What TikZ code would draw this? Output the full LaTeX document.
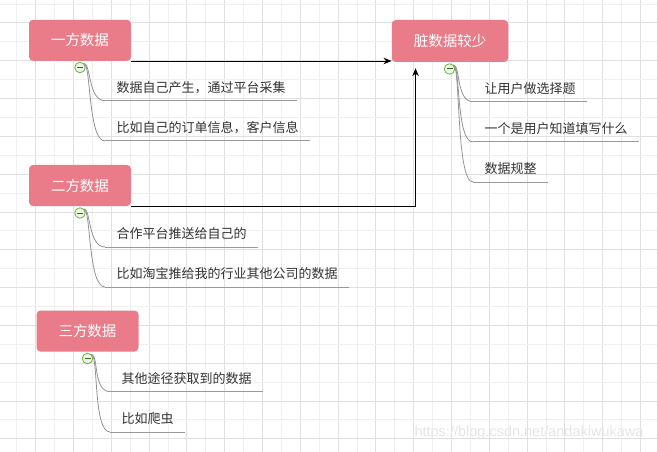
\documentclass[tikz,border=0pt]{standalone}
\usepackage{fontspec}
\setmainfont{Noto Sans CJK SC}
\newfontfamily\wmfont{Liberation Sans}
\usetikzlibrary{arrows.meta,calc}
\definecolor{topicpink}{HTML}{E97C88}
\definecolor{leafgray}{HTML}{333333}
\definecolor{linegray}{HTML}{9A9A9A}
\definecolor{foldgreen}{HTML}{6DB33F}
\definecolor{foldfill}{HTML}{EEF7E6}
\tikzset{
  topic/.style={fill=topicpink,rounded corners=4pt,text=white,
                font=\fontsize{14.5}{17}\selectfont,
                minimum height=41pt,inner xsep=22pt},
  leaf/.style={anchor=south west,inner xsep=11.5pt,inner ysep=7pt,
               text=leafgray,font=\fontsize{13}{15}\selectfont},
  uline/.style={draw=linegray,line width=1pt},
  branch/.style={draw=gray!85,line width=0.8pt},
  fold/.style={circle,draw=foldgreen,fill=foldfill,line width=0.8pt,
               minimum size=10.5pt,inner sep=0pt,
               path picture={\draw[foldgreen!55!black,line width=1pt]
                 ([xshift=-3pt]path picture bounding box.center) --
                 ([xshift=3pt]path picture bounding box.center);}},
  arr/.style={-{Stealth[length=8pt,width=6.5pt]},line width=0.9pt},
  gridminor/.style={draw=gray!12,line width=0.8pt},
  gridmajor/.style={draw=gray!24,line width=0.8pt},
  wm/.style={anchor=east,text=gray!20,font=\wmfont\fontsize{14.5}{16}\selectfont},
}

\begin{document}
\begin{tikzpicture}[x=1pt,y=-1pt]
\fill[white] (0,0) rectangle (657,452);
\useasboundingbox (0,0) rectangle (657,452);
% background grid
\foreach \i [evaluate=\i as \gx using 16.7+18.9*\i] in {0,...,33}
  {\ifodd\i \draw[gridmajor] (\gx,0) -- (\gx,452);
   \else \draw[gridminor] (\gx,0) -- (\gx,452); \fi}
\foreach \i [evaluate=\i as \gy using 4+18.9*\i] in {0,...,23}
  {\ifodd\i \draw[gridmajor] (0,\gy) -- (657,\gy);
   \else \draw[gridminor] (0,\gy) -- (657,\gy); \fi}

% topics
\node[topic] (one)   at (80,40.3)   {一方数据};
\node[topic] (two)   at (80,185.5)  {二方数据};
\node[topic] (three) at (87.5,331)  {三方数据};
\node[topic,minimum height=42pt] (dirty) at (450,41) {脏数据较少};

% fold markers
\node[fold] (c1) at (80,67.5)  {};
\node[fold] (c2) at (80,213)   {};
\node[fold] (c3) at (87.5,358.5) {};
\node[fold] (c0) at (449.5,69) {};

% leaves
\node[leaf] (a1) at (105,100.7) {数据自己产生，通过平台采集};
\node[leaf] (a2) at (105,141)   {比如自己的订单信息，客户信息};
\node[leaf] (b1) at (105,247)   {合作平台推送给自己的};
\node[leaf] (b2) at (105,287)   {比如淘宝推给我的行业其他公司的数据};
\node[leaf] (e1) at (110,391.7) {其他途径获取到的数据};
\node[leaf] (e2) at (110,432)   {比如爬虫};
\node[leaf] (d1) at (473,101.7) {让用户做选择题};
\node[leaf] (d2) at (473,142)   {一个是用户知道填写什么};
\node[leaf] (d3) at (473,182)   {数据规整};

\foreach \n in {a1,a2,b1,b2,e1,e2,d1,d2,d3}
  \draw[uline] (\n.south west) -- (\n.south east);
\foreach \c/\n in {c1/a1,c1/a2,c2/b1,c2/b2,c3/e1,c3/e2,c0/d1,c0/d2,c0/d3}
  \draw[branch] (\c.north east) .. controls +(7,0) and +(-17,0) .. (\n.south west);

% arrows into the dirty-data topic
\draw[arr] (one.south east) -- (one.south east -| dirty.west);
\draw[arr,shorten >=6pt] (two.south east) -| ([xshift=24pt]dirty.south west);

\node[wm] (mark) at (647,433) {https://blog.csdn.net/andakiwukawa};
\end{tikzpicture}
\end{document}
